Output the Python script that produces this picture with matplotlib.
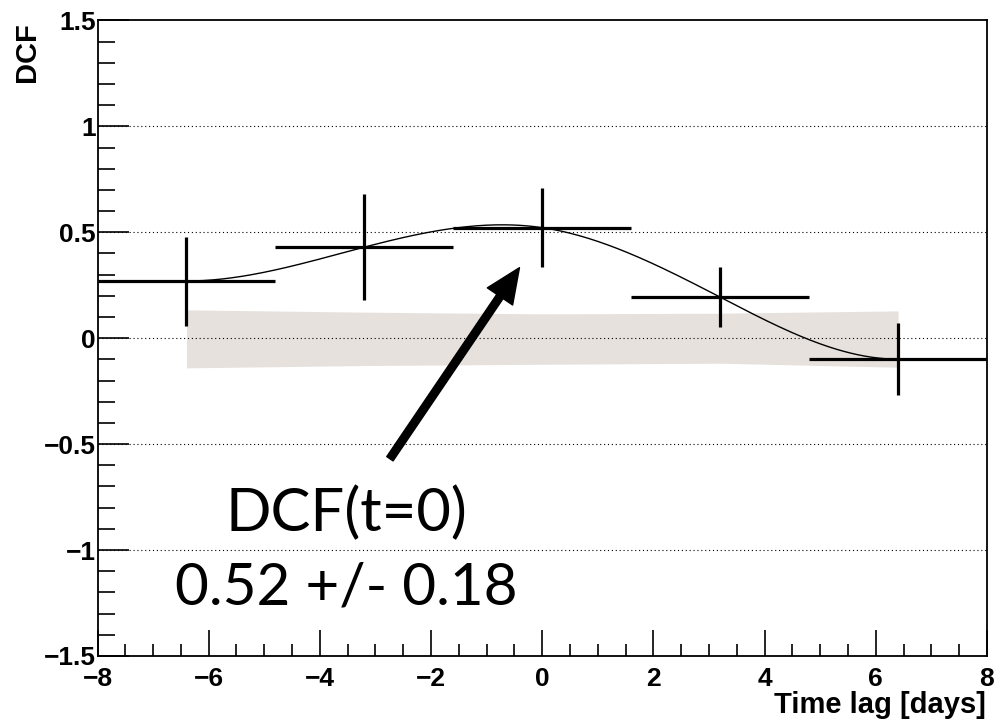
import numpy as np
import matplotlib
matplotlib.use('Agg')
import matplotlib.pyplot as plt
from matplotlib.ticker import MultipleLocator

# DCF points (bin centre, half width, value, error)
lag = np.array([-6.4, -3.2, 0.0, 3.2, 6.4])
lag_half = np.array([1.6, 1.6, 1.6, 1.6, 1.6])
dcf = np.array([0.27, 0.43, 0.522, 0.194, -0.099])
dcf_err = np.array([0.21, 0.25, 0.186, 0.14, 0.17])

# confidence band (uncorrelated level)
band_lo = np.array([-0.140, -0.129, -0.123, -0.118, -0.137])
band_hi = np.array([0.134, 0.123, 0.115, 0.118, 0.129])

xticks = [-8, -6, -4, -2, 0, 2, 4, 6, 8]
xticklabels = ['\u22128', '\u22126', '\u22124', '\u22122', '0', '2', '4', '6', '8']
yticks = [-1.5, -1, -0.5, 0, 0.5, 1, 1.5]
yticklabels = ['\u22121.5', '\u22121', '\u22120.5', '0', '0.5', '1', '1.5']


def clamped_spline(x, y, xs):
    # cubic spline with zero slope at both ends
    n = len(x)
    h = np.diff(x)
    A = np.zeros((n, n))
    b = np.zeros(n)
    A[0, 0], A[0, 1] = 2 * h[0], h[0]
    b[0] = 3 * (y[1] - y[0]) / h[0]
    A[-1, -2], A[-1, -1] = h[-1], 2 * h[-1]
    b[-1] = -3 * (y[-1] - y[-2]) / h[-1]
    for i in range(1, n - 1):
        A[i, i - 1] = h[i - 1]
        A[i, i] = 2 * (h[i - 1] + h[i])
        A[i, i + 1] = h[i]
        b[i] = 3 * ((y[i + 1] - y[i]) / h[i] - (y[i] - y[i - 1]) / h[i - 1])
    c = np.linalg.solve(A, b)
    out = np.empty_like(xs)
    for k, xv in enumerate(xs):
        i = min(np.searchsorted(x, xv, side='right') - 1, n - 2)
        i = max(i, 0)
        d = xv - x[i]
        bi = (y[i + 1] - y[i]) / h[i] - h[i] * (2 * c[i] + c[i + 1]) / 3
        di = (c[i + 1] - c[i]) / (3 * h[i])
        out[k] = y[i] + bi * d + c[i] * d ** 2 + di * d ** 3
    return out


plt.rcParams['font.family'] = ['Liberation Sans', 'DejaVu Sans']

fig = plt.figure(figsize=(10, 7.24), dpi=100)
ax = fig.add_axes([0.0975, 0.094, 0.8895, 0.8777])

ax.fill_between(lag, band_lo, band_hi, color='#e6e1dc', lw=0, zorder=1)

for yg in [-1, -0.5, 0, 0.5, 1]:
    ax.axhline(yg, color='black', lw=0.8, ls=(0, (1, 2.5)), zorder=2)

xs = np.linspace(lag[0], lag[-1], 300)
ax.plot(xs, clamped_spline(lag, dcf, xs), color='black', lw=1.0, zorder=3)

ax.errorbar(lag, dcf, xerr=lag_half, yerr=dcf_err, fmt='none',
            ecolor='black', elinewidth=2.3, capsize=0, zorder=4)

ax.annotate('', xy=(-0.41, 0.333), xytext=(-2.74, -0.569),
            arrowprops=dict(facecolor='black', edgecolor='black',
                            width=5.5, headwidth=22, headlength=25, shrink=0),
            zorder=5)

ax.text(-3.53, -0.909, 'DCF(t=0)', family=['Lato', 'DejaVu Sans'],
        fontsize=43, ha='center', va='baseline')
ax.text(-3.53, -1.259, '0.52 +/- 0.18', family=['Lato', 'DejaVu Sans'],
        fontsize=42, ha='center', va='baseline')

ax.set_xlim(-8, 8)
ax.set_ylim(-1.5, 1.5)
ax.set_xticks(xticks)
ax.set_xticklabels(xticklabels)
ax.set_yticks(yticks)
ax.set_yticklabels(yticklabels)
ax.xaxis.set_minor_locator(MultipleLocator(0.5))
ax.yaxis.set_minor_locator(MultipleLocator(0.1))
ax.tick_params(axis='both', which='both', direction='in', top=False, right=False,
               width=1.2, labelsize=19)
ax.tick_params(axis='x', which='major', length=19, pad=8)
ax.tick_params(axis='x', which='minor', length=9)
ax.tick_params(axis='y', which='major', length=22, pad=1)
ax.tick_params(axis='y', which='minor', length=12)
for lab in ax.get_xticklabels() + ax.get_yticklabels():
    lab.set_fontweight('bold')
for sp in ax.spines.values():
    sp.set_linewidth(1.3)

fig.text(0.986, 0.0152, 'Time lag [days]', fontsize=21, fontweight='bold',
         ha='right', va='baseline')
fig.text(0.027, 1 - 22 / 724, 'DCF', fontsize=21, fontweight='bold',
         rotation=90, ha='center', va='top')

fig.savefig('out.png', dpi=100)
